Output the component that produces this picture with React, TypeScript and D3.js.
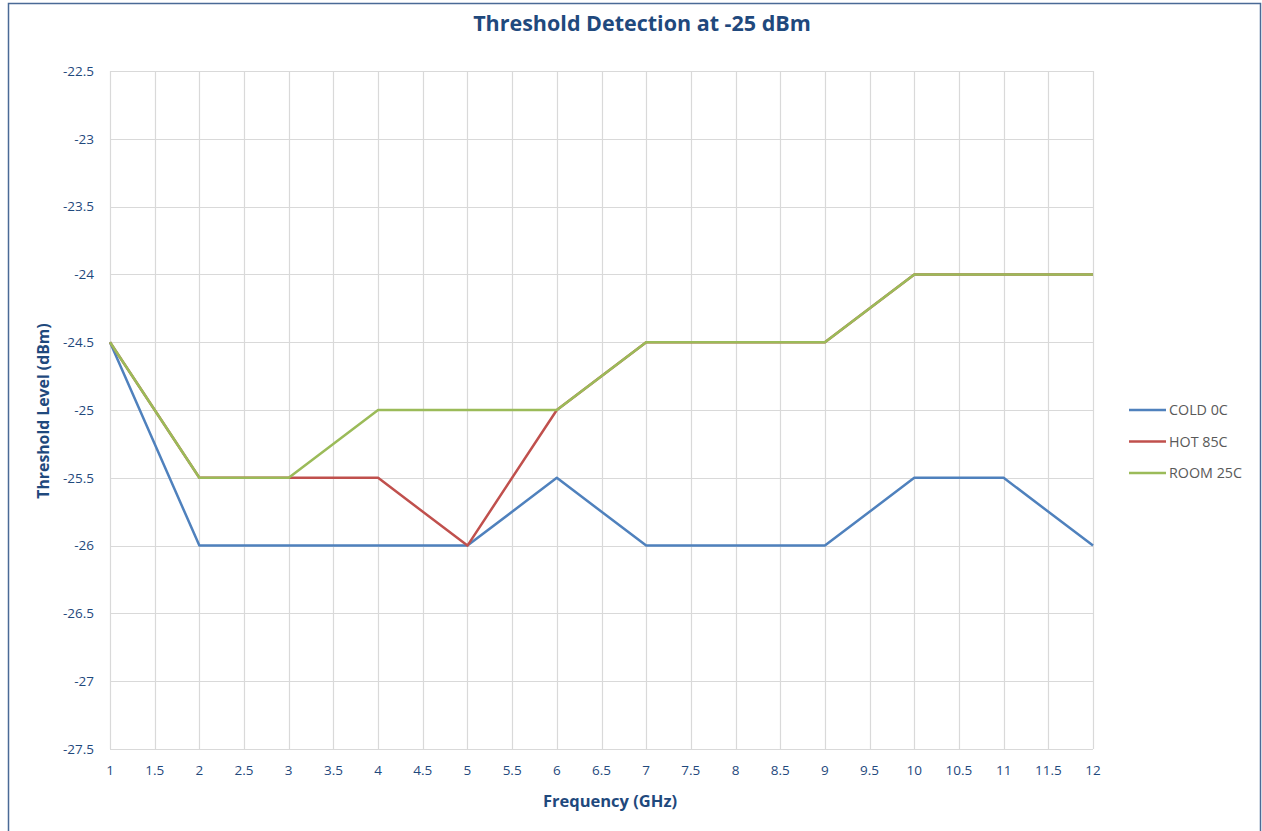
import * as d3 from "d3";
import { useEffect, useRef } from "react";

// chart data
const frequencies = [1, 2, 3, 4, 5, 6, 7, 8, 9, 10, 11, 12];
const cold0C = [-24.5, -26, -26, -26, -26, -25.5, -26, -26, -26, -25.5, -25.5, -26];
const hot85C = [-24.5, -25.5, -25.5, -25.5, -26, -25, -24.5, -24.5, -24.5, -24, -24, -24];
const room25C = [-24.5, -25.5, -25.5, -25, -25, -25, -24.5, -24.5, -24.5, -24, -24, -24];
const seriesNames = ["COLD 0C", "HOT 85C", "ROOM 25C"];
const seriesColors = ["#4F81BD", "#C0504D", "#9BBB59"];
const xTicks = d3.range(1, 12.01, 0.5);
const yTicks = d3.range(-27.5, -22.49, 0.5);

const App = () => {
  const ref = useRef<SVGSVGElement>(null);
  const width = 1262;
  const height = 831;
  const margin = { top: 71, right: 169, bottom: 82, left: 110 };
  const font = "'Open Sans', 'Noto Sans', sans-serif";
  const textColor = "#1F497D";

  useEffect(() => {
    const svg = d3.select(ref.current);
    svg.selectAll("*").remove();

    // chart border
    svg.append("rect")
      .attr("x", 8.5).attr("y", 3.5)
      .attr("width", 1252).attr("height", 840)
      .attr("fill", "white")
      .attr("stroke", "#4A6A96")
      .attr("stroke-width", 1.5);

    const x = d3.scaleLinear().domain([1, 12]).range([margin.left, width - margin.right]);
    const y = d3.scaleLinear().domain([-27.5, -22.5]).range([height - margin.bottom, margin.top]);

    // grid
    const grid = svg.append("g").attr("stroke", "#D9D9D9").attr("stroke-width", 1.2);
    grid.selectAll("line.v").data(xTicks).enter().append("line")
      .attr("x1", (d) => Math.round(x(d)) + 0.5).attr("x2", (d) => Math.round(x(d)) + 0.5)
      .attr("y1", y(-22.5)).attr("y2", y(-27.5));
    grid.selectAll("line.h").data(yTicks).enter().append("line")
      .attr("x1", x(1)).attr("x2", x(12))
      .attr("y1", (d) => Math.round(y(d)) + 0.5).attr("y2", (d) => Math.round(y(d)) + 0.5);

    // tick labels (plain hyphen minus, like the original)
    svg.append("g").selectAll("text").data(yTicks).enter().append("text")
      .attr("x", 94).attr("y", (d) => y(d))
      .attr("dy", "0.35em")
      .attr("text-anchor", "end")
      .attr("font-family", font).attr("font-size", 13.5)
      .attr("fill", textColor)
      .text((d) => String(d));

    svg.append("g").selectAll("text").data(xTicks).enter().append("text")
      .attr("x", (d) => x(d)).attr("y", height - margin.bottom + 26)
      .attr("text-anchor", "middle")
      .attr("font-family", font).attr("font-size", 13.5)
      .attr("fill", textColor)
      .text((d) => String(d));

    // series lines
    const all = [cold0C, hot85C, room25C];
    const line = d3.line<number>()
      .x((_, i) => x(frequencies[i]))
      .y((d) => y(d));
    all.forEach((vals, i) => {
      svg.append("path")
        .datum(vals)
        .attr("d", line)
        .attr("fill", "none")
        .attr("stroke", seriesColors[i])
        .attr("stroke-width", 2.5)
        .attr("stroke-linejoin", "round");
    });

    // titles
    svg.append("text")
      .attr("x", 642).attr("y", 31)
      .attr("text-anchor", "middle")
      .attr("font-family", font).attr("font-weight", "bold").attr("font-size", 21.5)
      .attr("fill", textColor)
      .text("Threshold Detection at -25 dBm");

    svg.append("text")
      .attr("x", 610).attr("y", 807)
      .attr("text-anchor", "middle")
      .attr("font-family", font).attr("font-weight", "bold").attr("font-size", 16.5)
      .attr("fill", textColor)
      .text("Frequency (GHz)");

    svg.append("text")
      .attr("transform", `translate(49, 411) rotate(-90)`)
      .attr("text-anchor", "middle")
      .attr("font-family", font).attr("font-weight", "bold").attr("font-size", 15.8)
      .attr("fill", textColor)
      .text("Threshold Level (dBm)");

    // legend
    const legend = svg.append("g");
    seriesNames.forEach((name, i) => {
      const ly = 410 + i * 31.5;
      legend.append("line")
        .attr("x1", 1129).attr("x2", 1166)
        .attr("y1", ly).attr("y2", ly)
        .attr("stroke", seriesColors[i]).attr("stroke-width", 2.5);
      legend.append("text")
        .attr("x", 1169).attr("y", ly)
        .attr("dy", "0.35em")
        .attr("font-family", font).attr("font-size", 14.3)
        .attr("fill", "#595959")
        .text(name);
    });
  }, []);

  return (
    <svg
      ref={ref}
      width={width}
      height={height}
      style={{ position: "absolute", left: 0, top: 0 }}
    />
  );
};

export default App;
